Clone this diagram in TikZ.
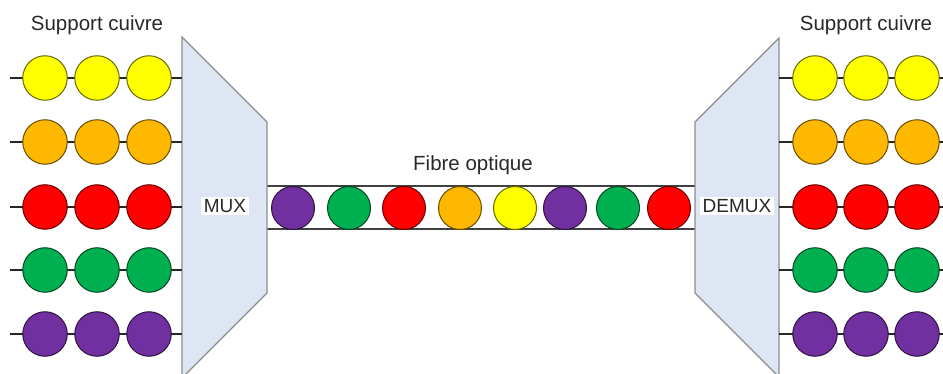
\documentclass[tikz,border=0pt]{standalone}
\usepackage{fontspec}
\setmainfont{Liberation Sans}
\definecolor{cyel}{RGB}{255,255,0}
\definecolor{corg}{RGB}{255,184,0}
\definecolor{cred}{RGB}{255,0,0}
\definecolor{cgrn}{RGB}{0,176,80}
\definecolor{cpur}{RGB}{112,48,160}
\definecolor{boxfill}{RGB}{221,230,242}
\definecolor{boxline}{RGB}{140,140,140}
\definecolor{txt}{RGB}{40,40,40}
\tikzset{
  dot/.style={circle, inner sep=0pt, minimum size=44.5pt, line width=1pt, draw=#1!40!black, fill=#1},
  fdot/.style={circle, inner sep=0pt, minimum size=43pt, line width=1pt, draw=#1!40!black, fill=#1},
  wire/.style={line width=1.6pt, draw=black!85},
  fibre/.style={line width=2pt, draw=black!75},
  trap/.style={fill=boxfill, draw=boxline, line width=1.4pt},
  lbl/.style={font=\fontsize{20.5}{24}\selectfont, text=txt, inner sep=0pt},
  boxlbl/.style={font=\fontsize{19}{22}\selectfont, text=txt, fill=white, inner sep=2.5pt}
}
\begin{document}
\begin{tikzpicture}[x=1pt,y=-1pt]
\useasboundingbox (0,0) rectangle (943,374);
% MUX / DEMUX trapezoids
\coordinate (mTL) at (182,37);
\coordinate (mTR) at (267,122);
\coordinate (mBR) at (267,293);
\coordinate (mBL) at (182,378);
\coordinate (dTL) at (695,122);
\coordinate (dTR) at (779,38);
\coordinate (dBR) at (779,377);
\coordinate (dBL) at (695,293);
% fibre
\draw[fibre] (267,186) coordinate (fa1) -- (695,186) coordinate (fb1);
\draw[fibre] (267,229) coordinate (fa2) -- (695,229) coordinate (fb2);
\foreach \x/\c [count=\i] in {293/cpur,349/cgrn,404/cred,460/corg,515/cyel,565/cpur,618/cgrn,669/cred}
  \node[fdot=\c] (f\i) at (\x,208) {};
\draw[trap] (mTL) -- (mTR) -- (mBR) -- (mBL) -- cycle;
\draw[trap] (dTL) -- (dTR) -- (dBR) -- (dBL) -- cycle;
% rows
\foreach \y/\c [count=\r] in {78/cyel,142/corg,207/cred,270/cgrn,334/cpur}{
  \coordinate (ls\r) at (10,\y);
  \coordinate (le\r) at (182,\y);
  \coordinate (rs\r) at (779,\y);
  \coordinate (re\r) at (943,\y);
  \draw[wire] (ls\r) -- (le\r);
  \draw[wire] (rs\r) -- (re\r);
  \node[dot=\c] (La\r) at (45,\y) {};
  \node[dot=\c] (Lb\r) at (97,\y) {};
  \node[dot=\c] (Lc\r) at (149,\y) {};
  \node[dot=\c] (Ra\r) at (815,\y) {};
  \node[dot=\c] (Rb\r) at (866,\y) {};
  \node[dot=\c] (Rc\r) at (917,\y) {};
}
% labels
\node[lbl] (supL) at (97,25) {Support cuivre};
\node[lbl] (supR) at (866,25) {Support cuivre};
\node[lbl] (fib) at (473,165) {Fibre optique};
\node[boxlbl] (mux) at (225,206) {MUX};
\node[boxlbl] (demux) at (737,206) {DEMUX};
\end{tikzpicture}
\end{document}
